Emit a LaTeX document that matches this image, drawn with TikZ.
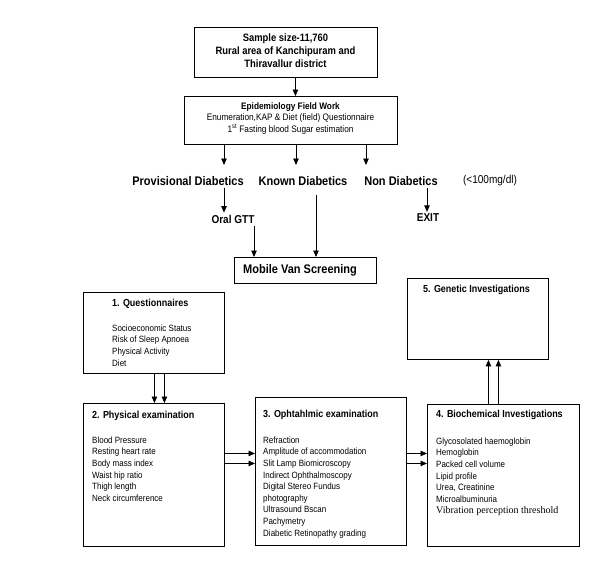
\documentclass[tikz,border=0pt]{standalone}
\usepackage{fontspec}
\setmainfont{Liberation Sans}[FakeStretch=0.88]
\newfontfamily\tms{Liberation Serif}
\usetikzlibrary{arrows.meta}
\tikzset{
  box/.style={draw, line width=0.9pt, inner sep=0pt, anchor=north west},
  arr/.style={line width=0.9pt, -{Triangle[length=6.5pt,width=5.5pt]}},
  head/.style={font=\fontsize{12.5}{14}\selectfont\bfseries, inner sep=0pt},
  sub/.style={font=\fontsize{11.4}{13}\selectfont\bfseries, inner sep=2pt},
  ttl/.style={font=\fontsize{10.2}{12}\selectfont\bfseries, inner sep=0pt, anchor=north west},
  body/.style={font=\fontsize{9.1}{11.6}\selectfont, inner sep=0pt, anchor=north west, align=left},
}
\begin{document}
\begin{tikzpicture}[x=1pt,y=-1pt]
\useasboundingbox (0,0) rectangle (600,571);
% top box
\node[box, minimum width=183pt, minimum height=50pt] (top) at (194,27) {};
\node[font=\fontsize{10.7}{13}\selectfont\bfseries, align=center, inner sep=0pt] (toptxt) at (285.5,51)
  {Sample size-11,760\\Rural area of Kanchipuram and\\Thiravallur district};
% epidemiology box
\node[box, minimum width=213pt, minimum height=48pt] (epi) at (184,96) {};
\node[font=\fontsize{9.4}{11.5}\selectfont, align=center, inner sep=0pt] (epitxt) at (290.5,118.5)
  {\textbf{Epidemiology Field Work}\\Enumeration,KAP \& Diet (field) Questionnaire\\1\textsuperscript{st} Fasting blood Sugar estimation};
\draw[arr] ([xshift=9.5pt]top.south) -- ([xshift=9.5pt]top.south |- epi.north);
% category labels
\node[head] (prov) at (188,181) {Provisional Diabetics};
\node[head] (known) at (303,181) {Known Diabetics};
\node[head] (non) at (401,181) {Non Diabetics};
\node[font=\fontsize{11.4}{13}\selectfont, inner sep=0pt] (range) at (490,181) {(<100mg/dl)};
\coordinate (c1) at (224,165);
\coordinate (c2) at (296,165);
\coordinate (c3) at (366,165);
\draw[arr] (epi.south -| c1) -- (c1);
\draw[arr] (epi.south -| c2) -- (c2);
\draw[arr] (epi.south -| c3) -- (c3);
\node[sub] (oral) at (233,219) {Oral GTT};
\node[sub] (exit) at (428,218) {EXIT};
\coordinate (p1) at (224,188);
\coordinate (n1) at (427,188);
\coordinate (k1) at (316,195);
\coordinate (o1) at (254,226);
\draw[arr] (p1) -- (p1 |- oral.north);
\draw[arr] (n1) -- (n1 |- exit.north);
% mobile van
\node[box, minimum width=142pt, minimum height=26pt] (mv) at (234,257) {};
\node[font=\fontsize{12.5}{14}\selectfont\bfseries, inner sep=0pt, anchor=west] (mvtxt) at (243,270) {Mobile Van Screening};
\draw[arr] (o1) -- (o1 |- mv.north);
\draw[arr] (k1) -- (k1 |- mv.north);
% 1 questionnaires
\node[box, minimum width=141pt, minimum height=81pt] (q) at (83,292) {};
\node[ttl] (qt) at (112,299) {1. Questionnaires};
\node[body] (qb) at (112,324.5) {Socioeconomic Status\\Risk of Sleep Apnoea\\Physical Activity\\Diet};
% 2 physical
\node[box, minimum width=141pt, minimum height=143pt] (p) at (83,403) {};
\node[ttl] (pt) at (92,411) {2. Physical examination};
\node[body] (pb) at (92,436.5) {Blood Pressure\\Resting heart rate\\Body mass index\\Waist hip ratio\\Thigh length\\Neck circumference};
% 3 ophthalmic
\node[box, minimum width=151pt, minimum height=148pt] (o) at (255,397) {};
\node[ttl] (ot) at (263,410) {3. Ophtahlmic examination};
\node[body] (ob) at (263,436.5) {Refraction\\Amplitude of accommodation\\Slit Lamp Biomicroscopy\\Indirect Ophthalmoscopy\\Digital Stereo Fundus\\photography\\Ultrasound Bscan\\Pachymetry\\Diabetic Retinopathy grading};
% 4 biochemical
\node[box, minimum width=152pt, minimum height=142pt] (b) at (427,404) {};
\node[ttl] (bt) at (436,410) {4. Biochemical Investigations};
\node[body] (bb) at (436,437.5) {Glycosolated haemoglobin\\Hemoglobin\\Packed cell volume\\Lipid profile\\Urea, Creatinine\\Microalbuminuria\\{\tms\fontsize{10}{11.6}\selectfont Vibration perception threshold}};
% 5 genetic
\node[box, minimum width=141pt, minimum height=81pt] (g) at (407,278) {};
\node[ttl] (gt) at (423,285) {5. Genetic Investigations};
% connectors between sections
\draw[arr] ([xshift=0.5pt]q.south) -- ([xshift=0.5pt]q.south |- p.north);
\draw[arr] ([xshift=10.5pt]q.south) -- ([xshift=10.5pt]q.south |- p.north);
\draw[arr] ([yshift=21.5pt]p.east) -- ([yshift=21.5pt]p.east -| o.west);
\draw[arr] ([yshift=11.5pt]p.east) -- ([yshift=11.5pt]p.east -| o.west);
\draw[arr] ([yshift=18pt]o.east) -- ([yshift=18pt]o.east -| b.west);
\draw[arr] ([yshift=8pt]o.east) -- ([yshift=8pt]o.east -| b.west);
\draw[arr] ([xshift=-15pt]b.north) -- ([xshift=-15pt]b.north |- g.south);
\draw[arr] ([xshift=-5pt]b.north) -- ([xshift=-5pt]b.north |- g.south);
\end{tikzpicture}
\end{document}
